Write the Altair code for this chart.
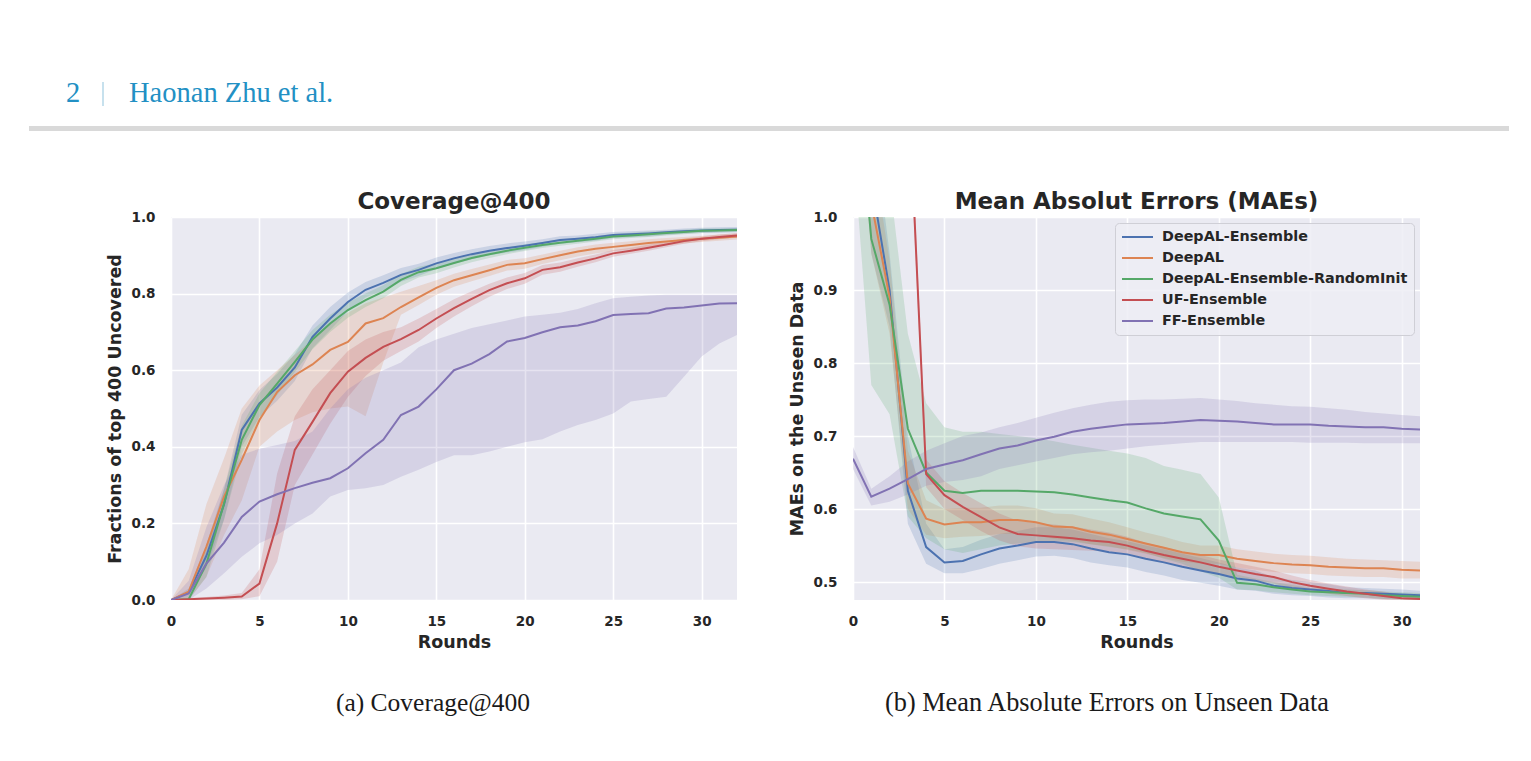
import altair as alt
import pandas as pd

METHODS = [
    "DeepAL-Ensemble",
    "DeepAL",
    "DeepAL-Ensemble-RandomInit",
    "UF-Ensemble",
    "FF-Ensemble",
]
PALETTE = ["#4C72B0", "#DD8452", "#55A868", "#C44E52", "#8172B3"]

FONT = "DejaVu Sans"
SERIF = "Liberation Serif"
INK = "#262626"

# ---------------------------------------------------------------- Coverage@400
cov_rounds = list(range(33))

cov_ens = [0.0, 0.02, 0.115, 0.25, 0.444, 0.513, 0.555, 0.607, 0.687, 0.735, 0.778, 0.81, 0.828,
           0.849, 0.862, 0.879, 0.892, 0.903, 0.912, 0.919, 0.925, 0.932, 0.94, 0.943, 0.947, 0.953,
           0.955, 0.957, 0.96, 0.963, 0.965, 0.966, 0.967]
cov_ens_lo = [0.0, 0.01, 0.085, 0.21, 0.40, 0.478, 0.52, 0.572, 0.657, 0.705, 0.753, 0.79, 0.808,
              0.831, 0.846, 0.864, 0.878, 0.89, 0.9, 0.907, 0.914, 0.922, 0.93, 0.934, 0.938, 0.945,
              0.947, 0.949, 0.953, 0.956, 0.958, 0.959, 0.96]
cov_ens_hi = [0.0, 0.03, 0.145, 0.29, 0.484, 0.548, 0.59, 0.642, 0.717, 0.765, 0.803, 0.83, 0.848,
              0.867, 0.878, 0.894, 0.906, 0.916, 0.924, 0.931, 0.936, 0.942, 0.95, 0.952, 0.956, 0.961,
              0.963, 0.965, 0.967, 0.97, 0.972, 0.973, 0.974]

cov_dal = [0.0, 0.022, 0.139, 0.27, 0.366, 0.47, 0.543, 0.587, 0.615, 0.653, 0.674, 0.722, 0.736,
           0.765, 0.79, 0.815, 0.835, 0.848, 0.861, 0.875, 0.879, 0.89, 0.9, 0.91, 0.917, 0.922,
           0.927, 0.932, 0.936, 0.94, 0.943, 0.946, 0.949]
cov_dal_lo = [0.0, 0.0, 0.06, 0.17, 0.26, 0.40, 0.44, 0.47, 0.49, 0.50, 0.505, 0.48, 0.62,
              0.745, 0.77, 0.797, 0.818, 0.832, 0.846, 0.86, 0.865, 0.877, 0.887, 0.897, 0.905, 0.911,
              0.916, 0.922, 0.927, 0.931, 0.935, 0.938, 0.941]
cov_dal_hi = [0.0, 0.08, 0.25, 0.37, 0.5, 0.56, 0.6, 0.64, 0.68, 0.72, 0.75, 0.775, 0.79,
              0.805, 0.82, 0.835, 0.852, 0.864, 0.876, 0.888, 0.892, 0.902, 0.912, 0.921, 0.928, 0.933,
              0.937, 0.942, 0.945, 0.948, 0.951, 0.954, 0.957]

cov_rnd = [0.0, 0.002, 0.094, 0.252, 0.418, 0.509, 0.565, 0.622, 0.68, 0.722, 0.757, 0.783, 0.805,
           0.836, 0.856, 0.866, 0.88, 0.893, 0.903, 0.912, 0.92, 0.927, 0.933, 0.938, 0.943, 0.949,
           0.952, 0.955, 0.958, 0.961, 0.964, 0.965, 0.966]
cov_rnd_lo = [0.0, 0.0, 0.06, 0.21, 0.38, 0.475, 0.535, 0.595, 0.655, 0.7, 0.737, 0.765, 0.788,
              0.82, 0.842, 0.853, 0.868, 0.882, 0.893, 0.903, 0.911, 0.919, 0.925, 0.93, 0.936, 0.942,
              0.945, 0.948, 0.952, 0.955, 0.958, 0.96, 0.961]
cov_rnd_hi = [0.0, 0.01, 0.13, 0.29, 0.455, 0.54, 0.595, 0.65, 0.705, 0.745, 0.777, 0.8, 0.822,
              0.851, 0.87, 0.879, 0.892, 0.904, 0.913, 0.921, 0.929, 0.935, 0.941, 0.946, 0.95, 0.956,
              0.959, 0.962, 0.964, 0.967, 0.97, 0.97, 0.971]

cov_uf = [0.0, 0.002, 0.004, 0.006, 0.009, 0.043, 0.2, 0.392, 0.465, 0.54, 0.596, 0.632, 0.661,
          0.681, 0.705, 0.735, 0.762, 0.786, 0.809, 0.827, 0.84, 0.862, 0.869, 0.881, 0.892, 0.905,
          0.912, 0.92, 0.928, 0.937, 0.943, 0.948, 0.952]
cov_uf_lo = [0.0, 0.0, 0.0, 0.0, 0.002, 0.01, 0.1, 0.3, 0.38, 0.46, 0.53, 0.585, 0.625,
             0.65, 0.675, 0.71, 0.74, 0.767, 0.792, 0.812, 0.826, 0.849, 0.857, 0.87, 0.882, 0.896,
             0.904, 0.912, 0.921, 0.93, 0.937, 0.942, 0.946]
cov_uf_hi = [0.0, 0.005, 0.008, 0.012, 0.018, 0.08, 0.33, 0.48, 0.55, 0.6, 0.65, 0.68, 0.7,
             0.712, 0.735, 0.76, 0.785, 0.806, 0.826, 0.842, 0.854, 0.875, 0.881, 0.892, 0.902, 0.914,
             0.92, 0.928, 0.935, 0.944, 0.949, 0.954, 0.958]

cov_ff = [0.0, 0.017, 0.095, 0.15, 0.217, 0.257, 0.276, 0.292, 0.306, 0.318, 0.344, 0.383, 0.418,
          0.483, 0.505, 0.55, 0.60, 0.617, 0.642, 0.675, 0.684, 0.699, 0.712, 0.717, 0.728, 0.744,
          0.747, 0.749, 0.761, 0.764, 0.769, 0.774, 0.775]
cov_ff_lo = [0.0, 0.0, 0.03, 0.07, 0.113, 0.148, 0.17, 0.2, 0.226, 0.27, 0.287, 0.292, 0.3,
             0.322, 0.34, 0.36, 0.378, 0.378, 0.388, 0.4, 0.412, 0.42, 0.44, 0.457, 0.47, 0.487,
             0.518, 0.525, 0.531, 0.583, 0.636, 0.67, 0.692]
cov_ff_hi = [0.0, 0.05, 0.19, 0.3, 0.379, 0.395, 0.405, 0.415, 0.44, 0.5, 0.55, 0.58, 0.6,
             0.62, 0.66, 0.68, 0.695, 0.71, 0.72, 0.73, 0.74, 0.745, 0.75, 0.76, 0.775, 0.788,
             0.792, 0.795, 0.797, 0.797, 0.797, 0.797, 0.797]

# ------------------------------------------------------ MAEs on the unseen data
mae_rounds = list(range(32))

mae_ens = [1.35, 1.05, 0.9, 0.625, 0.548, 0.527, 0.529, 0.538, 0.546, 0.55, 0.555, 0.555, 0.552,
           0.546, 0.541, 0.538, 0.532, 0.527, 0.521, 0.516, 0.511, 0.505, 0.502, 0.495, 0.492,
           0.49, 0.488, 0.485, 0.485, 0.484, 0.483, 0.482]
mae_ens_lo = [1.3, 0.95, 0.85, 0.58, 0.525, 0.512, 0.512, 0.518, 0.525, 0.53, 0.535, 0.536, 0.533,
              0.527, 0.523, 0.52, 0.514, 0.509, 0.503, 0.499, 0.495, 0.49, 0.488, 0.484, 0.482,
              0.481, 0.479, 0.478, 0.478, 0.477, 0.477, 0.477]
mae_ens_hi = [1.4, 1.15, 0.95, 0.70, 0.58, 0.545, 0.548, 0.558, 0.566, 0.57, 0.575, 0.575, 0.572,
              0.566, 0.56, 0.556, 0.55, 0.545, 0.539, 0.533, 0.527, 0.52, 0.516, 0.507, 0.503,
              0.5, 0.497, 0.493, 0.492, 0.491, 0.49, 0.488]

mae_dal = [1.3, 1.02, 0.89, 0.635, 0.587, 0.579, 0.582, 0.582, 0.585, 0.585, 0.582, 0.576, 0.575,
           0.569, 0.565, 0.559, 0.553, 0.547, 0.541, 0.537, 0.537, 0.532, 0.529, 0.526, 0.524,
           0.523, 0.521, 0.52, 0.519, 0.519, 0.517, 0.516]
mae_dal_lo = [1.25, 0.95, 0.84, 0.6, 0.565, 0.56, 0.562, 0.563, 0.566, 0.566, 0.564, 0.559, 0.557,
              0.552, 0.549, 0.544, 0.539, 0.533, 0.528, 0.525, 0.525, 0.52, 0.517, 0.514, 0.512,
              0.511, 0.509, 0.508, 0.507, 0.507, 0.505, 0.505]
mae_dal_hi = [1.35, 1.1, 0.94, 0.68, 0.612, 0.6, 0.602, 0.602, 0.605, 0.605, 0.601, 0.594, 0.593,
              0.587, 0.582, 0.575, 0.568, 0.562, 0.555, 0.55, 0.55, 0.545, 0.542, 0.539, 0.537,
              0.536, 0.534, 0.532, 0.531, 0.53, 0.529, 0.528]

mae_rnd = [1.25, 0.97, 0.88, 0.71, 0.65, 0.625, 0.622, 0.625, 0.625, 0.625, 0.624, 0.623, 0.62,
           0.616, 0.612, 0.609, 0.601, 0.594, 0.59, 0.586, 0.557, 0.499, 0.497, 0.493, 0.49,
           0.487, 0.486, 0.485, 0.484, 0.482, 0.481, 0.48]
mae_rnd_lo = [1.1, 0.77, 0.73, 0.59, 0.56, 0.545, 0.54, 0.545, 0.55, 0.553, 0.555, 0.556, 0.555,
              0.552, 0.548, 0.545, 0.54, 0.532, 0.525, 0.515, 0.506, 0.49, 0.489, 0.486, 0.484,
              0.482, 0.481, 0.48, 0.479, 0.477, 0.476, 0.475]
mae_rnd_hi = [1.35, 1.15, 1.05, 0.84, 0.745, 0.712, 0.706, 0.706, 0.703, 0.7, 0.697, 0.693, 0.688,
              0.684, 0.68, 0.676, 0.67, 0.659, 0.654, 0.648, 0.616, 0.51, 0.505, 0.5, 0.496,
              0.492, 0.491, 0.49, 0.489, 0.487, 0.486, 0.485]

mae_uf = [1.7, 1.6, 1.45, 1.2, 0.648, 0.619, 0.603, 0.589, 0.575, 0.566, 0.564, 0.562, 0.56,
          0.557, 0.555, 0.55, 0.543, 0.537, 0.532, 0.527, 0.521, 0.516, 0.511, 0.507, 0.5,
          0.495, 0.491, 0.487, 0.484, 0.481, 0.478, 0.477]
mae_uf_lo = [1.65, 1.55, 1.4, 1.17, 0.63, 0.6, 0.585, 0.57, 0.557, 0.549, 0.546, 0.545, 0.544,
             0.543, 0.542, 0.539, 0.533, 0.527, 0.522, 0.517, 0.511, 0.507, 0.502, 0.498, 0.492,
             0.488, 0.484, 0.481, 0.478, 0.476, 0.474, 0.473]
mae_uf_hi = [1.75, 1.65, 1.5, 1.23, 0.668, 0.638, 0.622, 0.608, 0.594, 0.584, 0.581, 0.579, 0.576,
             0.572, 0.568, 0.562, 0.554, 0.548, 0.542, 0.537, 0.531, 0.526, 0.521, 0.516, 0.509,
             0.503, 0.498, 0.494, 0.49, 0.487, 0.483, 0.481]

mae_ff = [0.669, 0.617, 0.628, 0.641, 0.655, 0.661, 0.667, 0.675, 0.683, 0.687, 0.694, 0.699, 0.706,
          0.71, 0.713, 0.716, 0.717, 0.718, 0.72, 0.722, 0.721, 0.72, 0.718, 0.716, 0.716,
          0.716, 0.714, 0.713, 0.712, 0.712, 0.71, 0.709]
mae_ff_lo = [0.655, 0.605, 0.61, 0.62, 0.632, 0.637, 0.64, 0.645, 0.655, 0.66, 0.665, 0.67, 0.675,
             0.678, 0.68, 0.683, 0.686, 0.688, 0.69, 0.692, 0.692, 0.692, 0.692, 0.692, 0.692,
             0.691, 0.691, 0.691, 0.69, 0.69, 0.69, 0.69]
mae_ff_hi = [0.685, 0.628, 0.645, 0.665, 0.68, 0.69, 0.70, 0.705, 0.712, 0.718, 0.725, 0.732, 0.738,
             0.743, 0.747, 0.749, 0.75, 0.75, 0.751, 0.752, 0.75, 0.748, 0.745, 0.743, 0.741,
             0.74, 0.738, 0.736, 0.733, 0.731, 0.729, 0.727]


def long_table(rounds, series):
    rows = []
    for name, (mean, lo, hi) in zip(METHODS, series):
        for r, m, l, h in zip(rounds, mean, lo, hi):
            rows.append({"method": name, "round": r, "mean": m, "lo": l, "hi": h})
    return pd.DataFrame(rows)


cov_df = long_table(cov_rounds, [
    (cov_ens, cov_ens_lo, cov_ens_hi),
    (cov_dal, cov_dal_lo, cov_dal_hi),
    (cov_rnd, cov_rnd_lo, cov_rnd_hi),
    (cov_uf, cov_uf_lo, cov_uf_hi),
    (cov_ff, cov_ff_lo, cov_ff_hi),
])
mae_df = long_table(mae_rounds, [
    (mae_ens, mae_ens_lo, mae_ens_hi),
    (mae_dal, mae_dal_lo, mae_dal_hi),
    (mae_rnd, mae_rnd_lo, mae_rnd_hi),
    (mae_uf, mae_uf_lo, mae_uf_hi),
    (mae_ff, mae_ff_lo, mae_ff_hi),
])

one_row = pd.DataFrame({"k": [0]})


def text_layer(text, x, y, size, color, font=SERIF, align="left", weight="normal"):
    return alt.Chart(one_row).mark_text(
        text=text, font=font, fontSize=size, fontWeight=weight, color=color,
        align=align, baseline="alphabetic",
    ).encode(x=alt.value(x), y=alt.value(y))


legend = alt.Legend(
    title=None, orient="none", legendX=262, legendY=6,
    symbolType="stroke", symbolSize=961, symbolStrokeWidth=2, symbolOpacity=1, clipHeight=16,
    labelFont=FONT, labelFontWeight="bold", labelFontSize=14.35, labelColor=INK, labelOffset=8,
    labelLimit=400,
    fillColor="rgba(237,237,244,0.85)", strokeColor="#cfcfd6", cornerRadius=4,
    padding=6, rowPadding=5,
)


def panel(df, y_title, x_max, y_dom, y_ticks, with_legend):
    x = alt.X("round:Q",
              scale=alt.Scale(domain=[0, x_max], nice=False, zero=False),
              axis=alt.Axis(values=[0, 5, 10, 15, 20, 25, 30], title="Rounds", format="d"))
    y_scale = alt.Scale(domain=y_dom, nice=False, zero=False)
    y_axis = alt.Axis(values=y_ticks, title=y_title, format=".1f")
    color = alt.Color("method:N", scale=alt.Scale(domain=METHODS, range=PALETTE), sort=METHODS,
                      legend=legend if with_legend else None)

    band = alt.Chart(df).mark_area(opacity=0.2, clip=True).encode(
        x=x, y=alt.Y("lo:Q", scale=y_scale, axis=y_axis), y2="hi:Q", color=color)
    line = alt.Chart(df).mark_line(clip=True, strokeWidth=2).encode(
        x=x, y=alt.Y("mean:Q", scale=y_scale, axis=y_axis), color=color)
    return band, line


cov_band, cov_line = panel(cov_df, "Fractions of top 400 Uncovered",
                           32, [0, 1], [0.0, 0.2, 0.4, 0.6, 0.8, 1.0], False)
mae_band, mae_line = panel(mae_df, "MAEs on the Unseen Data",
                           31, [0.4755, 1.0], [0.5, 0.6, 0.7, 0.8, 0.9, 1.0], True)

# page furniture around the two panels (pixel offsets from each plot's origin)
corner = alt.Chart(one_row).mark_rect(color="white", strokeWidth=0).encode(
    x=alt.value(-171), x2=alt.value(-170), y=alt.value(-217), y2=alt.value(-216))
head_rule = alt.Chart(one_row).mark_rect(color="#d9d9d9", strokeWidth=0).encode(
    x=alt.value(-142), x2=alt.value(1338), y=alt.value(-91), y2=alt.value(-86))
head_bar = alt.Chart(one_row).mark_rule(color="#8fc3dc", strokeWidth=1).encode(
    x=alt.value(-68), y=alt.value(-135), y2=alt.value(-111))
head_page = text_layer("2", -105, -115, 28.5, "#2290c4")
head_authors = text_layer("Haonan Zhu et al.", -42, -115, 28.5, "#2290c4")

title_a = text_layer("Coverage@400", 283, -8.5, 23, INK, font=FONT, align="center", weight="bold")
title_b = text_layer("Mean Absolut Errors (MAEs)", 283.5, -8.5, 23, INK, font=FONT, align="center",
                     weight="bold")
cap_a = text_layer("(a) Coverage@400", 262, 494, 25.5, "#1a1a1a", align="center")
cap_b = text_layer("(b) Mean Absolute Errors on Unseen Data", 254, 494, 26.3, "#1a1a1a",
                   align="center")

left = alt.layer(corner, head_rule, head_bar, head_page, head_authors,
                 cov_band, cov_line, title_a, cap_a).properties(width=566, height=383)
right = alt.layer(mae_band, mae_line, title_b, cap_b).properties(width=567, height=383)

chart = (
    alt.hconcat(left, right, spacing=116, bounds="flush")
    .resolve_scale(x="independent", y="independent", color="independent")
    .resolve_legend(color="independent")
    .properties(padding=0, background="white")
    .configure_view(fill="#EAEAF2", strokeWidth=0)
    .configure_axis(
        grid=True, gridColor="white", gridWidth=1.6, domain=False, ticks=False, tickSize=0,
        labelFont=FONT, labelFontWeight="bold", labelFontSize=13.5, labelColor=INK,
        labelFlush=False, labelOverlap=False,
        titleFont=FONT, titleFontWeight="bold", titleFontSize=17.5, titleColor=INK,
    )
    .configure_axisX(labelPadding=14, titlePadding=6)
    .configure_axisY(labelPadding=16, titlePadding=7)
)

chart.save("out.html", embed_options={"renderer": "svg", "actions": False})
